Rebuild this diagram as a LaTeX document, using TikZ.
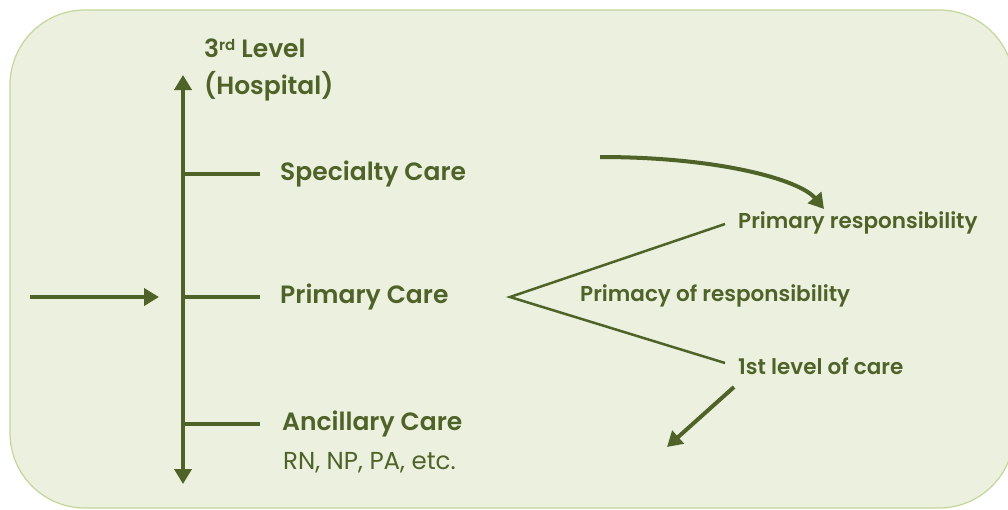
\documentclass[tikz,border=0pt]{standalone}
\usepackage{fontspec}
\setmainfont{Poppins}[BoldFont={Poppins SemiBold}]
\usepackage{tikz}
\usetikzlibrary{arrows.meta}

\definecolor{Olive}{HTML}{4F6228}
\definecolor{Sage}{HTML}{EBF1DE}
\definecolor{SageLine}{HTML}{C3D69B}

\begin{document}
\begin{tikzpicture}[x=1pt, y=-1pt]
  \tikzset{
    level/.style={anchor=west, inner sep=0pt, text=Olive, font=\bfseries\fontsize{25}{30}\selectfont},
    aspect/.style={anchor=west, inner sep=0pt, text=Olive, font=\bfseries\fontsize{21.5}{26}\selectfont},
    bar/.style={draw=Olive, line width=4pt},
    fork/.style={draw=Olive, line width=2.5pt},
    tip/.style={-{Triangle[width=17pt, length=15pt]}}
  }
  \useasboundingbox (0,0) rectangle (1008,509);
  \draw[fill=Sage, draw=SageLine, line width=1.2pt, rounded corners=75pt] (10,10) rectangle (1014,508);

  % levels of care
  \node[level] (third) at (204,48) {3\raisebox{0.45ex}{\fontsize{15}{18}\selectfont rd} Level};
  \node[level] (hosp) at (204,86) {(Hospital)};
  \node[level] (spec) at (280,174) {Specialty Care};
  \node[level] (prim) at (280,297) {Primary Care};
  \node[level] (anc) at (282,424) {Ancillary Care};
  \node[anchor=west, inner sep=0pt, text=Olive, font=\fontsize{24.5}{29}\selectfont] (staff) at (283,463) {RN, NP, PA, etc.};

  % vertical scale
  \coordinate (top) at (183,75);
  \coordinate (bottom) at (183,484);
  \coordinate (s) at (183,174);
  \coordinate (p) at (183,297);
  \coordinate (a) at (183,424);
  \coordinate (entry) at (30,297);
  \draw[bar, {Triangle[width=17pt, length=15pt]}-{Triangle[width=17pt, length=15pt]}] (top) -- (bottom);
  \draw[bar] (s) -- ++(77,0);
  \draw[bar] (p) -- ++(77,0);
  \draw[bar] (a) -- ++(77,0);
  \draw[bar, tip] (entry) -- (159,297);

  % what primary care means
  \node[aspect] (resp) at (738,223) {Primary responsibility};
  \node[aspect] (primacy) at (580,296) {Primacy of responsibility};
  \node[aspect] (first) at (738,366) {1st level of care};
  \coordinate (apex) at (510,297);
  \coordinate (r) at (725,224);
  \coordinate (f) at (725,363);
  \draw[fork] (r) -- (apex) -- (f);

  \coordinate (c0) at (600,157);
  \coordinate (c1) at (824,209);
  \draw[bar, tip] (c0) .. controls (720,157) and (800,180) .. (c1);
  \coordinate (d0) at (734,387);
  \coordinate (d1) at (667,447);
  \draw[bar, tip] (d0) -- (d1);
\end{tikzpicture}
\end{document}
